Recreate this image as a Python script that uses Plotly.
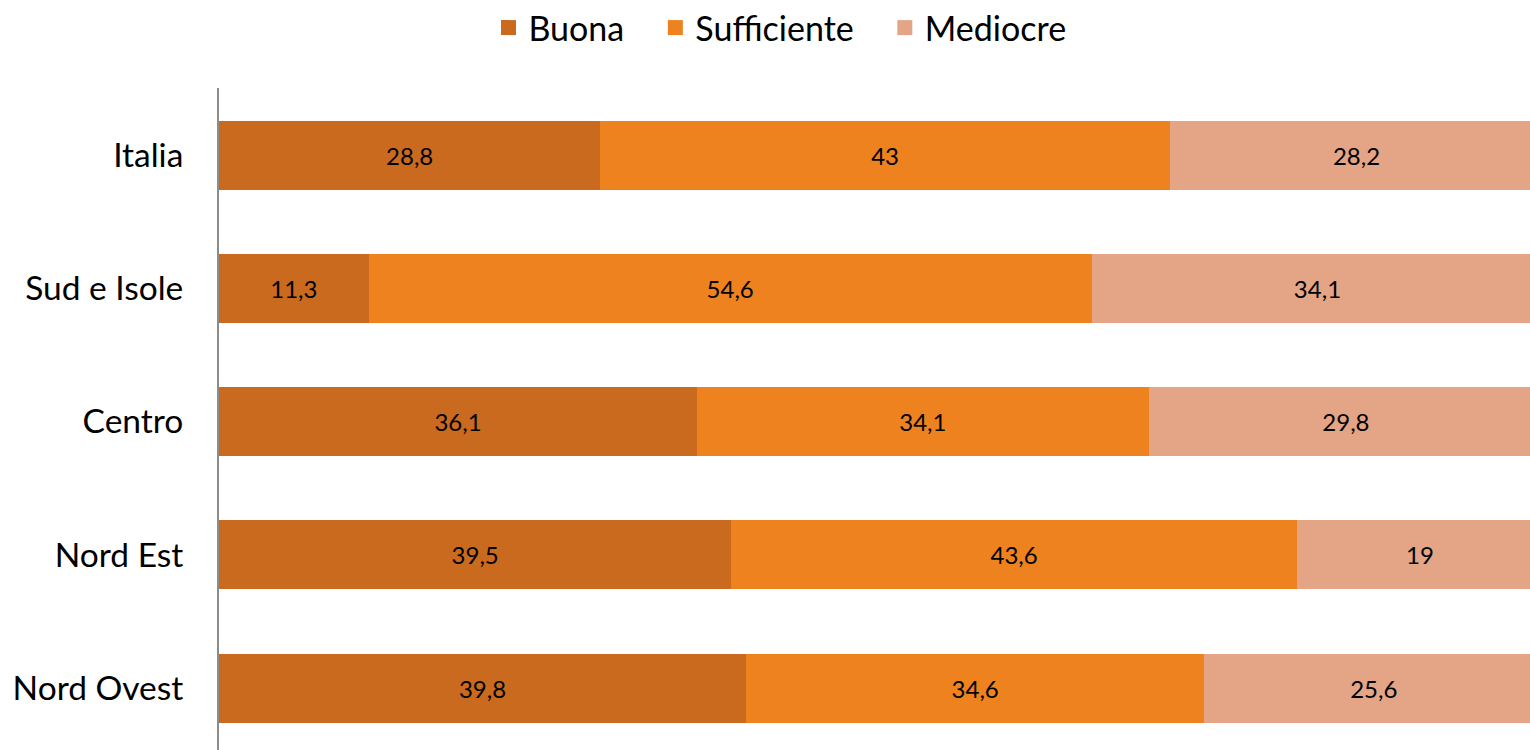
import plotly.graph_objects as go

categories = ["Nord Ovest", "Nord Est", "Centro", "Sud e Isole", "Italia"]
buona = [39.8, 39.5, 36.1, 11.3, 28.8]
sufficiente = [34.6, 43.6, 34.1, 54.6, 43.0]
mediocre = [25.6, 19.0, 29.8, 34.1, 28.2]

series = [
    ("Buona", buona, "#C96A1F"),
    ("Sufficiente", sufficiente, "#EE821F"),
    ("Mediocre", mediocre, "#E4A486"),
]

def fmt(v):
    return f"{v:g}".replace(".", ",")

W, H = 1530, 750

fig = go.Figure()
for name, vals, color in series:
    fig.add_trace(go.Bar(
        y=categories, x=vals, name=name, orientation="h",
        marker=dict(color=color, line=dict(width=0)),
        text=[fmt(v) for v in vals], textposition="inside",
        insidetextanchor="middle", textangle=0,
        textfont=dict(family="Lato", size=24, color="#000000"),
        constraintext="none", hoverinfo="skip", showlegend=False,
    ))

# legend entries (square markers sized like the reference)
pad = {"Buona": "\u00a0\u00a0\u00a0", "Sufficiente": "\u00a0\u00a0\u00a0", "Mediocre": ""}
for name, vals, color in series:
    fig.add_trace(go.Scatter(
        x=[None], y=[None], mode="markers", name=name + pad[name],
        marker=dict(symbol="square", size=15, color=color),
        showlegend=True, hoverinfo="skip",
    ))

fig.update_layout(
    barmode="stack", barnorm="percent", bargap=0.482,
    width=W, height=H,
    margin=dict(l=219, r=0, t=88, b=0),
    plot_bgcolor="white", paper_bgcolor="white",
    font=dict(family="Lato", color="#000000"),
    showlegend=True,
    legend=dict(
        orientation="h", xref="container", yref="container",
        x=780 / W, xanchor="center", y=1 - 28 / H, yanchor="middle",
        font=dict(size=34, family="Lato"), traceorder="normal",
        itemsizing="trace",
    ),
    xaxis=dict(range=[0, 99.0], visible=False, showgrid=False, zeroline=False),
    yaxis=dict(
        categoryorder="array", categoryarray=categories,
        range=[-0.464, 4.503], showgrid=False, zeroline=False,
        showline=True, linecolor="#8C8C8C", linewidth=2,
        ticks="", ticklabelstandoff=27,
        tickfont=dict(size=33.5, family="Lato", color="#000000"),
    ),
)

fig.write_html(
    "out.html",
    config={"displayModeBar": False},
    post_script="document.body.style.margin='0';document.body.style.overflow='hidden';",
)
